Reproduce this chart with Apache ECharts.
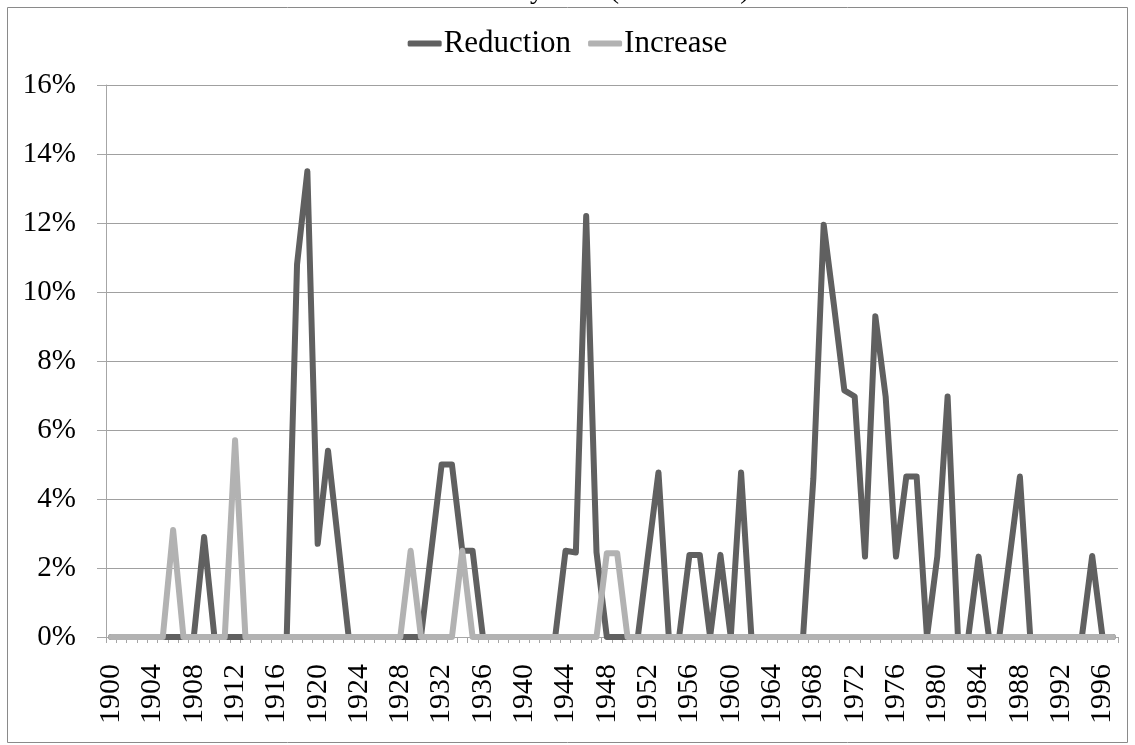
<!DOCTYPE html>
<html>
<head>
<meta charset="utf-8">
<script src="https://cdn.jsdelivr.net/npm/echarts@6/dist/echarts.min.js"></script>
<style>
html,body{margin:0;padding:0;background:#fff;}
#chart{width:1135px;height:745px;}
</style>
</head>
<body>
<div id="chart"></div>
<script>
// ---- data ----
var titleText = "Rate Shifts by Year (1900-1997)";
var seriesNames = ["Reduction", "Increase"];
var startYear = 1900, endYear = 1997;
var years = [];
for (var y = startYear; y <= endYear; y++) years.push(String(y));

// Reduction (%), 1900..1997, one row per decade
var reduction = [
  0, 0, 0, 0, 0, 0, 0, 0, 0, 2.9,          // 1900s
  0, 0, 0, 0, 0, 0, 0, 0, 10.8, 13.5,      // 1910s
  2.7, 5.4, 2.7, 0, 0, 0, 0, 0, 0, 0,      // 1920s
  0, 2.5, 5.0, 5.0, 2.5, 2.5, 0, 0, 0, 0,  // 1930s
  0, 0, 0, 0, 2.5, 2.45, 12.2, 2.45, 0, 0, // 1940s
  0, 0, 2.4, 4.77, 0, 0, 2.38, 2.38, 0, 2.38, // 1950s
  0, 4.77, 0, 0, 0, 0, 0, 0, 4.6, 11.95,   // 1960s
  9.6, 7.15, 6.97, 2.33, 9.3, 6.97, 2.33, 4.65, 4.65, 0, // 1970s
  2.33, 6.97, 0, 0, 2.33, 0, 0, 2.3, 4.65, 0, // 1980s
  0, 0, 0, 0, 0, 2.35, 0, 0                // 1990s
];
// Increase (%), 1900..1997
var increase = [
  0, 0, 0, 0, 0, 0, 3.1, 0, 0, 0,          // 1900s
  0, 0, 5.7, 0, 0, 0, 0, 0, 0, 0,          // 1910s
  0, 0, 0, 0, 0, 0, 0, 0, 0, 2.5,          // 1920s
  0, 0, 0, 0, 2.5, 0, 0, 0, 0, 0,          // 1930s
  0, 0, 0, 0, 0, 0, 0, 0, 2.43, 2.43,      // 1940s
  0, 0, 0, 0, 0, 0, 0, 0, 0, 0,            // 1950s
  0, 0, 0, 0, 0, 0, 0, 0, 0, 0,            // 1960s
  0, 0, 0, 0, 0, 0, 0, 0, 0, 0,            // 1970s
  0, 0, 0, 0, 0, 0, 0, 0, 0, 0,            // 1980s
  0, 0, 0, 0, 0, 0, 0, 0                   // 1990s
];
var yMin = 0, yMax = 16, yStep = 2;

// ---- chart ----
var FONT = "'Liberation Serif','Times New Roman',serif";
var chart = echarts.init(document.getElementById('chart'), null, {renderer: 'canvas'});
chart.setOption({
  animation: false,
  backgroundColor: '#fff',
  textStyle: {fontFamily: FONT, color: '#000'},
  title: {
    text: titleText,
    left: 'center',
    top: -28,
    textStyle: {fontFamily: FONT, fontSize: 28, fontWeight: 'normal', color: '#000', lineHeight: 28}
  },
  graphic: [{
    type: 'rect',
    shape: {x: 7.5, y: 7.5, width: 1120, height: 735},
    style: {fill: 'none', stroke: '#8a8a8a', lineWidth: 1},
    silent: true,
    z: -1
  }],
  legend: {
    top: 23,
    left: 'center',
    icon: 'roundRect',
    itemWidth: 34,
    itemHeight: 6,
    itemGap: 17,
    textStyle: {fontFamily: FONT, fontSize: 31, color: '#000', padding: [0, 0, 0, -3]},
    data: seriesNames
  },
  grid: {left: 106, right: 17, top: 85, bottom: 108, containLabel: false},
  xAxis: {
    type: 'category',
    data: years,
    boundaryGap: true,
    axisLine: {lineStyle: {color: '#a6a6a6', width: 1}},
    axisTick: {show: true, interval: 0, length: 6, lineStyle: {color: '#a6a6a6'}},
    axisLabel: {interval: 3, rotate: 90, margin: 27, fontFamily: FONT, fontSize: 30, color: '#000'},
    splitLine: {show: false}
  },
  yAxis: {
    type: 'value',
    min: yMin, max: yMax, interval: yStep,
    axisLine: {show: true, lineStyle: {color: '#a6a6a6', width: 1}},
    axisTick: {show: true, length: 9, lineStyle: {color: '#a6a6a6'}},
    axisLabel: {formatter: '{value}%', margin: 30, fontFamily: FONT, fontSize: 29, color: '#000'},
    splitLine: {show: true, lineStyle: {color: '#a0a0a0', width: 1}}
  },
  series: [
    {
      name: seriesNames[0], type: 'line', data: reduction,
      showSymbol: false, symbol: 'none',
      color: '#606060',
      lineStyle: {color: '#606060', width: 6, cap: 'round', join: 'round'}
    },
    {
      name: seriesNames[1], type: 'line', data: increase,
      showSymbol: false, symbol: 'none',
      color: '#b2b2b2',
      lineStyle: {color: '#b2b2b2', width: 6, cap: 'round', join: 'round'}
    }
  ]
});
</script>
</body>
</html>
